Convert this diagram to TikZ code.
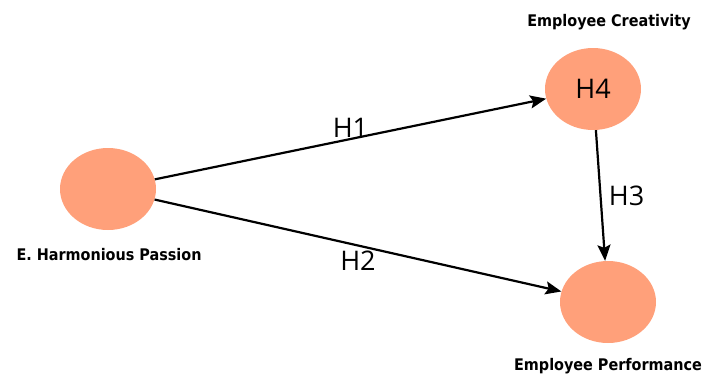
\documentclass[tikz,border=0pt]{standalone}
\usepackage{fontspec}
\setmainfont{DejaVu Sans}
\newfontfamily\hfont{Open Sans}
\newfontfamily\namefont{DejaVu Sans Condensed}
\usetikzlibrary{shapes.geometric,arrows.meta}
\definecolor{salmon}{HTML}{FFA07A}
\tikzset{
  construct/.style={ellipse,fill=salmon,minimum width=96pt,minimum height=82pt,inner sep=0pt,font=\hfont\fontsize{27}{27}\selectfont},
  varname/.style={font=\namefont\bfseries\fontsize{16}{16}\selectfont},
  hypo/.style={font=\hfont\fontsize{27}{27}\selectfont},
  path/.style={line width=2.2pt,-{Stealth[length=16pt,width=13pt,inset=3pt]}}
}
\begin{document}
\begin{tikzpicture}[x=1pt,y=-1pt]
  \useasboundingbox (0,0) rectangle (705,376);
  % constructs
  \node[construct] (ehp) at (108,189) {};
  \node[construct] (ec) at (593,89) {H4};
  \node[construct] (ep) at (608,302) {};
  % names
  \node[varname] (ehplab) at (109,255) {E. Harmonious Passion};
  \node[varname] (eclab) at (609,22) {Employee Creativity};
  \node[varname] (eplab) at (608,366) {Employee Performance};
  % hypotheses
  \draw[path] (ehp) -- node[hypo,above=-3pt] {H1} (ec);
  \draw[path] (ehp) -- node[hypo,below=1pt] {H2} (ep);
  \draw[path] (ec) -- node[hypo,right=4pt] {H3} (ep);
\end{tikzpicture}
\end{document}
